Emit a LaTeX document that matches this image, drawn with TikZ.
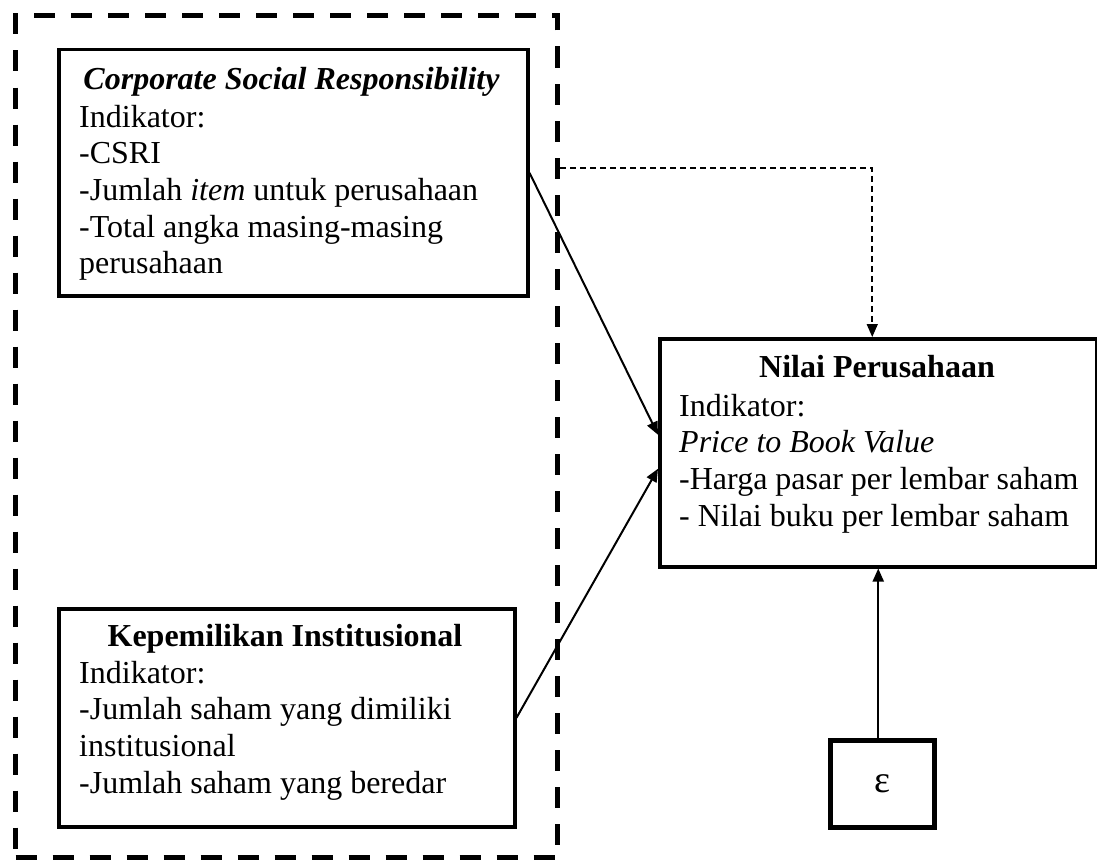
\documentclass[tikz,border=0pt]{standalone}
\usepackage{fontspec}
\setmainfont{Liberation Serif}
\usetikzlibrary{arrows.meta}
\begin{document}
\begin{tikzpicture}[x=1pt,y=-1pt,
  box/.style={draw, line width=3.5pt, inner sep=0pt, anchor=north west},
  outerbox/.style={draw, line width=5pt, dash pattern=on 21pt off 16pt, inner sep=0pt, anchor=north west},
  txt/.style={inner sep=0pt, align=left, anchor=north west, font=\fontsize{32}{36.7}\selectfont},
  ttl/.style={inner sep=0pt, anchor=base, font=\fontsize{32}{36.7}\selectfont\bfseries},
  arr/.style={line width=2pt, -{Triangle[length=13pt,width=11pt]}},
  darr/.style={line width=1.6pt, dash pattern=on 6pt off 4pt, -{Triangle[length=13pt,width=11pt]}}]
\useasboundingbox (0,0) rectangle (1097,859);
% outer dashed frame
\node[outerbox, minimum width=542pt, minimum height=842pt] (outer) at (13,13) {};
% CSR
\node[box, minimum width=469pt, minimum height=246pt] (csr) at (57,48) {};
\node[ttl, font=\fontsize{32}{36.7}\selectfont\bfseries\itshape] (csrtitle) at (291.5,89) {Corporate Social Responsibility};
\node[txt] (csrbody) at (79,101.3) {\strut Indikator:\\ -CSRI\\ -Jumlah \textit{item} untuk perusahaan\\ -Total angka masing-masing\\ perusahaan};
% Kepemilikan
\node[box, minimum width=456pt, minimum height=218pt] (kep) at (57,607) {};
\node[ttl] (keptitle) at (285,646) {Kepemilikan Institusional};
\node[txt] (kepbody) at (79,657.3) {\strut Indikator:\\ -Jumlah saham yang dimiliki\\ institusional\\ -Jumlah saham yang beredar};
% Nilai
\node[box, minimum width=437pt, minimum height=228pt] (nilai) at (658,337) {};
\node[ttl] (niltitle) at (877,377) {Nilai Perusahaan};
\node[txt] (nilbody) at (679,390.3) {\strut Indikator:\\ \textit{Price to Book Value}\\ -Harga pasar per lembar saham\\ - Nilai buku per lembar saham};
% epsilon
\node[box, line width=5pt, minimum width=104pt, minimum height=87pt, font=\fontsize{38}{40}\selectfont] (eps) at (828,738) {ε};
% connectors
\draw[arr] (csr.east) -- ([yshift=18pt]nilai.west);
\draw[arr] (kep.east) -- ([yshift=-16pt]nilai.west);
\draw[darr] ([yshift=-155pt]outer.north east) -| ([xshift=-6pt]nilai.north);
\draw[arr] (eps.north -| nilai.south) -- (nilai.south);
\end{tikzpicture}
\end{document}
